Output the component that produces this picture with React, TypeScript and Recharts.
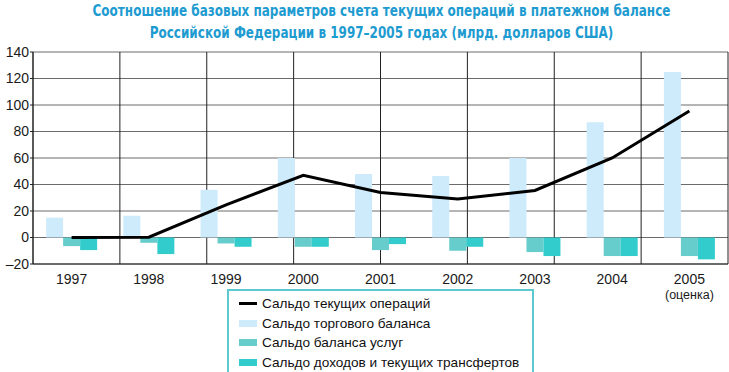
import {
  Bar,
  CartesianGrid,
  ComposedChart,
  Legend,
  Line,
  XAxis,
  YAxis
} from "recharts";

const years = ["1997", "1998", "1999", "2000", "2001", "2002", "2003", "2004", "2005"];
const yearNotes = ["", "", "", "", "", "", "", "", "(оценка)"];
const currentAccount = [0, 0.2, 24.6, 47, 34, 29, 35.5, 60, 95.5];
const tradeBalance = [15, 16.5, 36, 60, 48, 46.5, 60, 87, 125];
const servicesBalance = [-6.5, -4, -4.5, -7, -9.5, -10, -11, -14, -14];
const incomeTransfers = [-9.5, -12.5, -7, -7, -5, -7, -14, -14, -16.5];
const yTicks = [-20, 0, 20, 40, 60, 80, 100, 120, 140];
const boundaryTicks = [0, 1, 2, 3, 4, 5, 6, 7, 8, 9];

const seriesNames = [
  "Сальдо текущих операций",
  "Сальдо торгового баланса",
  "Сальдо баланса услуг",
  "Сальдо доходов и текущих трансфертов"
];

const titleLines = [
  "Соотношение базовых параметров счета текущих операций в платежном балансе",
  "Российской Федерации в 1997–2005 годах (млрд. долларов США)"
];

const data = years.map((year, i) => ({
  year,
  note: yearNotes[i],
  current: currentAccount[i],
  trade: tradeBalance[i],
  services: servicesBalance[i],
  income: incomeTransfers[i]
}));

const font = "'Liberation Sans', Arial, sans-serif";

function YearTick(props: any) {
  const { x, y, payload, index } = props;
  const note = yearNotes[index];
  return (
    <g transform={`translate(${x},${y})`}>
      <text textAnchor="middle" fontSize={14} fill="#1a1a1a" fontFamily={font} dy={12}>
        {payload.value}
      </text>
      {note ? (
        <text textAnchor="middle" fontSize={12.5} fill="#1a1a1a" fontFamily={font} dy={27}>
          {note}
        </text>
      ) : null}
    </g>
  );
}

function LegendBox(props: any) {
  const items = [...(props.payload || [])].sort(
    (a: any, b: any) => seriesNames.indexOf(a.value) - seriesNames.indexOf(b.value)
  );
  return (
    <div
      style={{
        border: "2px solid #5ec8d0",
        background: "#fff",
        padding: "3px 10px 4px 10px",
        width: 283,
        fontFamily: font,
        fontSize: 13.6,
        color: "#111"
      }}
    >
      {items.map((item: any) => (
        <div key={item.value} style={{ display: "flex", alignItems: "center", height: 19.5 }}>
          <span
            style={{
              display: "inline-block",
              width: 18,
              height: item.type === "line" ? 3 : 7,
              background: item.color,
              marginRight: 5
            }}
          />
          <span>{item.value}</span>
        </div>
      ))}
    </div>
  );
}

export default function App() {
  return (
    <div style={{ position: "absolute", left: 0, top: 0, width: 729, height: 372, background: "#fff" }}>
      <div
        style={{
          position: "absolute",
          left: 17,
          top: 0,
          width: 729,
          textAlign: "center",
          color: "#1e9bd0",
          fontFamily: "'Liberation Sans Narrow', 'DejaVu Sans Condensed', Arial, sans-serif",
          fontWeight: "bold",
          fontSize: 15,
          lineHeight: "22px",
          transform: "scaleX(0.89)",
          transformOrigin: "364.5px 0"
        }}
      >
        {titleLines.map((line) => (
          <div key={line}>{line}</div>
        ))}
      </div>
      <ComposedChart
        width={729}
        height={372}
        data={data}
        margin={{ top: 52, right: 1, bottom: 78, left: 0 }}
        barCategoryGap="17%"
        barGap={0}
      >
        <CartesianGrid horizontal vertical={false} stroke="#6b6b6b" />
        <CartesianGrid horizontal={false} vertical xAxisId="grid" stroke="#222" />
        <XAxis
          xAxisId="grid"
          type="number"
          domain={[0, 9]}
          ticks={boundaryTicks}
          allowDataOverflow
          height={0}
          axisLine={false}
          tickSize={4}
          tickLine={{ stroke: "#222" }}
          tick={() => <g />}
        />
        <XAxis
          dataKey="year"
          height={30}
          tick={<YearTick />}
          tickLine={false}
          axisLine={{ stroke: "#222" }}
          interval={0}
        />
        <YAxis
          width={33}
          domain={[-20, 140]}
          ticks={yTicks}
          interval={0}
          tickSize={3}
          tickMargin={1}
          axisLine={{ stroke: "#222" }}
          tickLine={{ stroke: "#222" }}
          tick={{ fontSize: 14, fill: "#1a1a1a", fontFamily: font }}
          tickFormatter={(v: number) => String(v).replace("-", "–")}
        />
        <Bar dataKey="trade" name={seriesNames[1]} fill="#cdebfb" isAnimationActive={false} />
        <Bar dataKey="services" name={seriesNames[2]} fill="#66cccc" isAnimationActive={false} />
        <Bar dataKey="income" name={seriesNames[3]} fill="#33cccc" isAnimationActive={false} />
        <Line
          dataKey="current"
          name={seriesNames[0]}
          type="linear"
          stroke="#000"
          strokeWidth={3}
          dot={false}
          activeDot={false}
          isAnimationActive={false}
        />
        <Legend
          layout="horizontal"
          verticalAlign="middle"
          align="center"
          content={<LegendBox />}
          wrapperStyle={{ position: "absolute", left: 227, top: 289, width: "auto" }}
        />
      </ComposedChart>
    </div>
  );
}
